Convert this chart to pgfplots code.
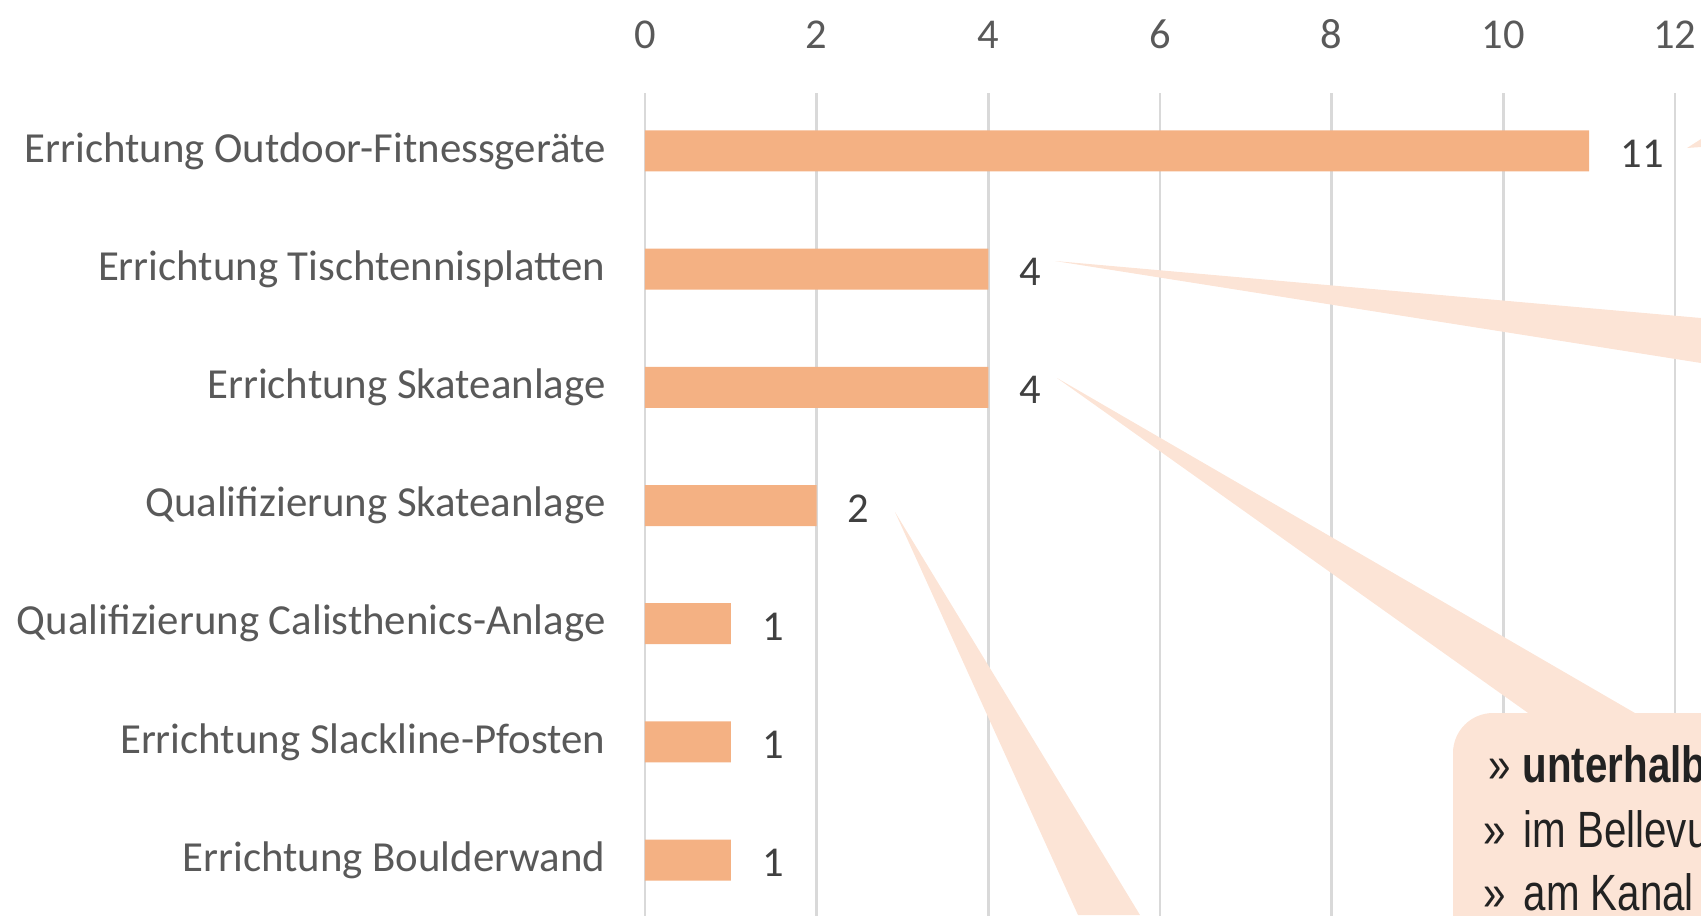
\documentclass[border=0pt]{standalone}
\usepackage{fontspec}
\setmainfont{Carlito}
\newfontfamily\boxfont{Liberation Sans}
\usepackage{graphicx}
\usepackage{pgfplots}
\pgfplotsset{compat=1.18}
\definecolor{barc}{HTML}{F4B183}
\definecolor{wedge}{HTML}{FCE4D6}
\definecolor{gridc}{HTML}{D9D9D9}
\definecolor{lab}{HTML}{595959}
\definecolor{val}{HTML}{404040}
\definecolor{txt}{HTML}{222222}
\begin{document}
\begin{tikzpicture}[x=0.3pt,y=-0.3pt]
\useasboundingbox (0,0) rectangle (1701,915);
\clip (0,0) rectangle (1701,915);
\begin{axis}[
  at={(193.5pt,-27.99pt)}, anchor=north west,
  scale only axis, width=309pt, height=251.3pt,
  xmin=0, xmax=12, ymin=-0.488, ymax=6.6, y dir=reverse,
  xbar, bar width=12.3pt,
  xtick={0,2,...,12}, xticklabel pos=upper,
  ytick={0,...,6},
  yticklabels={Errichtung Outdoor-Fitnessgeräte,Errichtung Tischtennisplatten,Errichtung Skateanlage,Qualifizierung Skateanlage,Qualifizierung Calisthenics-Anlage,Errichtung Slackline-Pfosten,Errichtung Boulderwand},
  xmajorgrids, grid style={gridc, line width=0.8pt},
  axis line style={draw=none}, major tick length=0pt, tick style={draw=none},
  /pgf/number format/assume math mode=true,
  every tick label/.append style={text=lab},
  xticklabel style={anchor=base, yshift=13.3pt, font=\fontsize{12.75}{15}\selectfont},
  yticklabel style={anchor=east, inner sep=0pt, xshift=-11.65pt, font=\fontsize{12.85}{15}\selectfont},
  nodes near coords,
  nodes near coords style={anchor=west, inner sep=0pt, xshift=9.2pt, yshift=-0.9pt, text=val, font=\fontsize{12.75}{15}\selectfont},
]
\addplot[fill=barc, draw=none] coordinates {(11,0) (4,1) (4,2) (2,3) (1,4) (1,5) (1,6)};
\end{axis}
\fill[wedge] (1687,148) -- (1701,139) -- (1701,147) -- cycle;
\fill[wedge] (1055,261) -- (1701,318) -- (1701,363) -- cycle;
\fill[wedge] (1057,378) -- (1538,720) -- (1647,720) -- cycle;
\fill[wedge] (895,512) -- (1078,915) -- (1140,915) -- cycle;
\fill[wedge, rounded corners=12pt] (1453,713) rectangle (1800,1000);
\begin{scope}[every node/.style={anchor=base west, inner sep=0pt, text=txt, font=\boxfont\fontsize{15.3}{18}\selectfont}]
\node at (1488,782) {\scalebox{0.79}[1]{»}};
\node at (1522,782) {\scalebox{0.79}[1]{\textbf{unterhalb der Brücke}}};
\node at (1483,847) {\scalebox{0.79}[1]{»}};
\node at (1523,847) {\scalebox{0.79}[1]{im Bellevue-Park}};
\node at (1483,910) {\scalebox{0.79}[1]{»}};
\node at (1523,910) {\scalebox{0.79}[1]{am Kanal}};
\end{scope}
\end{tikzpicture}
\end{document}
